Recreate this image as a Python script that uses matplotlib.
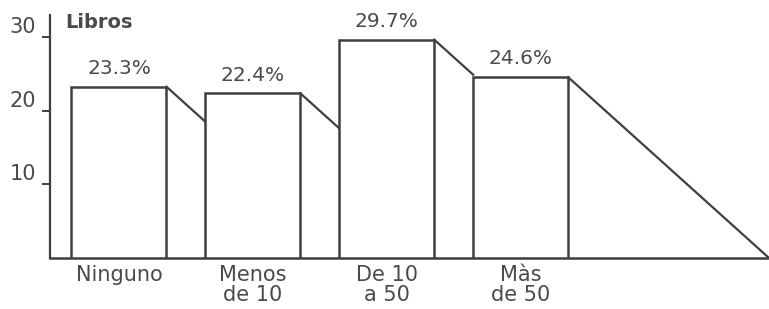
import matplotlib.pyplot as plt
import numpy as np

# data
categories = ['Ninguno', 'Menos\nde 10', 'De 10\na 50', 'Màs\nde 50']
values = [23.3, 22.4, 29.7, 24.6]
value_labels = ['23.3%', '22.4%', '29.7%', '24.6%']
y_ticks = [10, 20, 30]

ink = '#3f3f3f'
text_col = '#4a4a4a'
plt.rcParams['font.family'] = ['DejaVu Sans']

fig = plt.figure(figsize=(7.69, 3.09), dpi=100)
ax = fig.add_axes([50 / 769, 51 / 309, 719 / 769, 258 / 309])

x = np.arange(len(categories))
width = 0.71
ax.bar(x, values, width, color='white', edgecolor=ink, linewidth=1.8, zorder=3)

# slanted "shadow" lines from each bar's top right corner
slope = 16.4
for i, v in enumerate(values):
    x0 = x[i] + width / 2
    if i + 1 < len(values):
        x1 = x[i + 1] - width / 2
        y1 = v - slope * (x1 - x0)
    else:
        x1 = x0 + v / slope
        y1 = 0
    ax.plot([x0, x1], [v, y1], color=ink, linewidth=1.6, zorder=2)

for xi, v, lab in zip(x, values, value_labels):
    ax.text(xi, v + 1.2, lab, ha='center', va='bottom', fontsize=14.5, color=text_col)

ax.set_xlim(-0.515, 4.855)
ax.set_ylim(0, 35.1)

for s in ['top', 'right']:
    ax.spines[s].set_visible(False)
ax.spines['left'].set_bounds(0, 33.1)
ax.spines['left'].set_color(ink)
ax.spines['left'].set_linewidth(1.6)
ax.spines['bottom'].set_color(ink)
ax.spines['bottom'].set_linewidth(1.8)

ax.set_yticks(y_ticks)
ax.set_yticklabels([str(t) for t in y_ticks])
ax.tick_params(axis='y', direction='out', length=6, width=1.4, color=ink,
               pad=4, labelsize=15, labelcolor=text_col)
for lab in ax.get_yticklabels():
    lab.set_va('bottom')

ax.set_xticks(x)
ax.set_xticklabels(categories)
ax.tick_params(axis='x', length=0, pad=5, labelsize=15, labelcolor=text_col)
for lab in ax.get_xticklabels():
    lab.set_linespacing(1.0)

fig.text(65 / 769, 1 - 22 / 309, 'Libros', ha='left', va='center',
         fontsize=14, fontweight='bold', color=text_col)

fig.savefig('out.png', dpi=100)
